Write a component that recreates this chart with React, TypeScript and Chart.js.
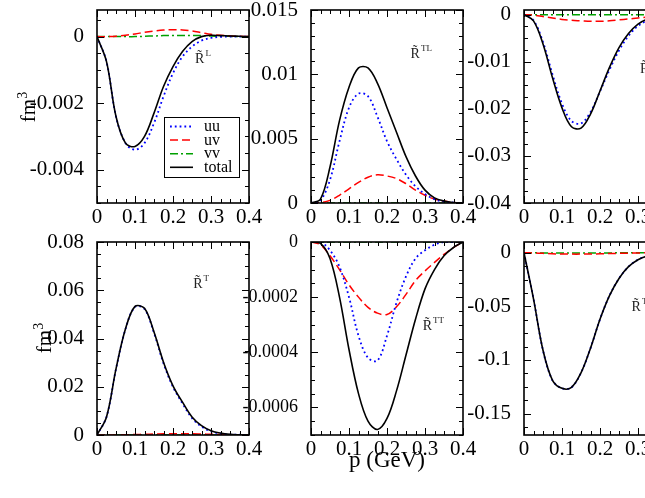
import React, { useEffect, useRef } from 'react';
import { Chart, registerables } from 'chart.js';

Chart.register(...registerables);

// momentum grid (GeV)
const P = [0, 0.025, 0.05, 0.075, 0.1, 0.125, 0.15, 0.175, 0.2, 0.225, 0.25, 0.275, 0.3, 0.325, 0.35, 0.375, 0.4];
const X_TICKS = [0, 0.1, 0.2, 0.3, 0.4];

// panel R~L (fm^3)
const L_UU = [0, -0.00075, -0.0024, -0.0032, -0.0034, -0.0032, -0.0026, -0.0018, -0.0011, -0.0006, -0.0003, -0.00012, -0.00004, -0.00001, 0, 0, 0];
const L_UV = [0, 0, 0.00001, 0.00004, 0.00008, 0.00013, 0.00017, 0.0002, 0.00021, 0.0002, 0.00017, 0.00012, 0.00007, 0.00004, 0.00002, 0.00001, 0];
const L_VV = [0, 0, 0, 0, 0, 0.00001, 0.00002, 0.00003, 0.00003, 0.00003, 0.00003, 0.00003, 0.00002, 0.00001, 0.00001, 0, 0];
const L_TOTAL = [0, -0.00075, -0.0024, -0.0032, -0.0033, -0.003, -0.0023, -0.0015, -0.0009, -0.00045, -0.00015, 0, 0.00004, 0.00003, 0.00002, 0.00001, 0];
const L_Y_TICKS = [-0.004, -0.002, 0];

// panel R~TL
const TL_UU = [0, 0.0002, 0.0018, 0.0048, 0.0074, 0.0085, 0.0083, 0.0067, 0.0048, 0.0034, 0.0022, 0.0013, 0.0007, 0.0003, 0.0001, 0.00003, 0];
const TL_UV = [0, 0.00002, 0.0002, 0.0006, 0.0011, 0.0016, 0.002, 0.0022, 0.0021, 0.0019, 0.0015, 0.001, 0.0006, 0.0003, 0.00015, 0.00005, 0];
const TL_VV = [0, 0, 0, 0, 0, 0, 0, 0, 0, 0, 0, 0, 0, 0, 0, 0, 0];
const TL_TOTAL = [0, 0.0003, 0.0028, 0.0064, 0.009, 0.0105, 0.0105, 0.0093, 0.0074, 0.0055, 0.0036, 0.0021, 0.001, 0.0004, 0.00015, 0.00004, 0];
const TL_Y_TICKS = [0, 0.005, 0.01, 0.015];

// third upper panel
const LT_UU = [0, -0.0012, -0.0058, -0.0127, -0.0189, -0.0226, -0.0231, -0.0207, -0.0163, -0.0117, -0.0076, -0.0045, -0.0024, -0.0012, -0.0005, -0.0002, 0];
const LT_UV = [0, -0.0001, -0.0004, -0.0007, -0.001, -0.0012, -0.0013, -0.0014, -0.0014, -0.0013, -0.0011, -0.0009, -0.0007, -0.0005, -0.0003, -0.0001, 0];
const LT_VV = [0, 0, 0, 0, 0, 0, 0, 0, 0, 0, 0, 0, 0, 0, 0, 0, 0];
const LT_TOTAL = [0, -0.0013, -0.0062, -0.0134, -0.0198, -0.0238, -0.0241, -0.0211, -0.0162, -0.0112, -0.007, -0.004, -0.002, -0.0009, -0.0004, -0.00015, 0];
const LT_Y_TICKS = [-0.04, -0.03, -0.02, -0.01, 0];

// panel R~T
const T_UU = [0, 0.0075, 0.0274, 0.0439, 0.0531, 0.0522, 0.0423, 0.0297, 0.0199, 0.0131, 0.007, 0.0035, 0.0015, 0.0006, 0.0002, 0.0001, 0];
const T_UV = [0, 0, 0.00005, 0.0001, 0.0002, 0.0003, 0.0004, 0.0005, 0.0005, 0.0005, 0.0005, 0.0004, 0.0003, 0.0002, 0.0001, 0.00005, 0];
const T_VV = [0, 0, 0, 0, 0, 0, 0, 0, 0, 0, 0, 0, 0, 0, 0, 0, 0];
const T_TOTAL = [0, 0.0075, 0.0274, 0.044, 0.0533, 0.0525, 0.0427, 0.0302, 0.0204, 0.0136, 0.0075, 0.0039, 0.0018, 0.0008, 0.0003, 0.0001, 0];
const T_Y_TICKS = [0, 0.02, 0.04, 0.06, 0.08];

// panel R~TT
const TT_UU = [0, 0, -0.00003, -0.00009, -0.0002, -0.00034, -0.00042, -0.00043, -0.00034, -0.00022, -0.000125, -0.00006, -0.00003, -0.00001, 0, 0, 0];
const TT_UV = [0, -0.00001, -0.00005, -0.0001, -0.000155, -0.0002, -0.000237, -0.000258, -0.000263, -0.000235, -0.00019, -0.00014, -0.000105, -0.000074, -0.000045, -0.00002, 0];
const TT_VV = [0, 0, 0, 0, 0, 0, 0, 0, 0, 0, 0, 0, 0, 0, 0, 0, 0];
const TT_TOTAL = [0, -0.000005, -0.00006, -0.0002, -0.00039, -0.00055, -0.00065, -0.00068, -0.00064, -0.00054, -0.00041, -0.00028, -0.00017, -0.0001, -0.00005, -0.00002, 0];
const TT_Y_TICKS = [-0.0006, -0.0004, -0.0002, 0];

// third lower panel
const T2_UU = [0, -0.043, -0.091, -0.119, -0.1265, -0.1255, -0.112, -0.089, -0.062, -0.04, -0.024, -0.013, -0.0065, -0.003, -0.0013, -0.0005, 0];
const T2_UV = [0, -0.0002, -0.0006, -0.001, -0.0012, -0.0013, -0.0013, -0.0012, -0.001, -0.0008, -0.0006, -0.0004, -0.0002, -0.0001, -0.00005, 0, 0];
const T2_VV = [0, -0.0001, -0.0002, -0.0003, -0.0003, -0.0003, -0.0003, -0.0003, -0.0002, -0.0002, -0.0001, -0.0001, 0, 0, 0, 0, 0];
const T2_TOTAL = [0, -0.043, -0.091, -0.119, -0.1265, -0.1255, -0.112, -0.089, -0.062, -0.04, -0.024, -0.013, -0.0065, -0.003, -0.0013, -0.0005, 0];
const T2_Y_TICKS = [-0.15, -0.1, -0.05, 0];

const SERIES_LABELS = ['uu', 'uv', 'vv', 'total'];

type PanelDef = {
  uu: number[]; uv: number[]; vv: number[]; total: number[];
  yMin: number; yMax: number; yTicks: number[]; yMajor: number; yMinor: number;
  tagSup: string; tagP: number; tagV: number; legend?: boolean;
  left: number; top: number; yFont: number;
};

const PLOT_W = 152;
const PLOT_H = 193;
const PAD_L = 80;
const PAD_T = 20;
const PAD_R = 25;
const PAD_B = 36;
const FONT = '"Liberation Serif", "Times New Roman", serif';
const TICK_SIZE = 21;

const PANELS: PanelDef[] = [
  { uu: L_UU, uv: L_UV, vv: L_VV, total: L_TOTAL, yMin: -0.005, yMax: 0.0008, yTicks: L_Y_TICKS, yMajor: 0.002, yMinor: 0.0005, tagSup: 'L', tagP: 0.258, tagV: -0.0008, legend: true, left: 97, top: 10, yFont: 21 },
  { uu: TL_UU, uv: TL_UV, vv: TL_VV, total: TL_TOTAL, yMin: 0, yMax: 0.015, yTicks: TL_Y_TICKS, yMajor: 0.005, yMinor: 0.001, tagSup: 'TL', tagP: 0.262, tagV: 0.0113, left: 311, top: 10, yFont: 21 },
  { uu: LT_UU, uv: LT_UV, vv: LT_VV, total: LT_TOTAL, yMin: -0.04, yMax: 0.001, yTicks: LT_Y_TICKS, yMajor: 0.01, yMinor: 0.0025, tagSup: 'LT', tagP: 0.305, tagV: -0.0123, left: 524, top: 10, yFont: 21 },
  { uu: T_UU, uv: T_UV, vv: T_VV, total: T_TOTAL, yMin: 0, yMax: 0.08, yTicks: T_Y_TICKS, yMajor: 0.02, yMinor: 0.005, tagSup: 'T', tagP: 0.253, tagV: 0.061, left: 97, top: 242, yFont: 21 },
  { uu: TT_UU, uv: TT_UV, vv: TT_VV, total: TT_TOTAL, yMin: -0.0007, yMax: 0, yTicks: TT_Y_TICKS, yMajor: 0.0002, yMinor: 0.00005, tagSup: 'TT', tagP: 0.294, tagV: -0.000318, left: 311, top: 242, yFont: 18 },
  { uu: T2_UU, uv: T2_UV, vv: T2_VV, total: T2_TOTAL, yMin: -0.17, yMax: 0.01, yTicks: T2_Y_TICKS, yMajor: 0.05, yMinor: 0.0125, tagSup: 'T', tagP: 0.283, tagV: -0.054, left: 524, top: 242, yFont: 21 },
];

const fmt = (v: number | string) => {
  const n = Number(v);
  if (Math.abs(n) < 1e-12) return '0';
  return String(parseFloat(n.toPrecision(6)));
};

const STYLES = [
  { color: '#0000ff', dash: [1.8, 3], width: 1.8, order: 1 },
  { color: '#ff0000', dash: [8, 4], width: 1.5, order: 2 },
  { color: '#00a000', dash: [8, 3, 2, 3], width: 1.5, order: 3 },
  { color: '#000000', dash: [] as number[], width: 1.6, order: 0 },
];

function Panel({ def }: { def: PanelDef }) {
  const ref = useRef<HTMLCanvasElement>(null);
  const W = PLOT_W + PAD_L + PAD_R;
  const H = PLOT_H + PAD_T + PAD_B;

  useEffect(() => {
    const canvas = ref.current;
    if (!canvas) return;
    const values = [def.uu, def.uv, def.vv, def.total];

    const overlay = {
      id: 'overlay',
      afterDatasetsDraw(chart: any) {
        const { ctx, chartArea: a, scales } = chart;
        const xs = scales.x;
        const ys = scales.y;
        ctx.save();
        ctx.strokeStyle = '#000';
        ctx.setLineDash([]);
        const ticks = (min: number, max: number, step: number, major: number, horiz: boolean) => {
          const k0 = Math.ceil(min / step - 1e-6);
          const k1 = Math.floor(max / step + 1e-6);
          for (let k = k0; k <= k1; k++) {
            const v = k * step;
            const isMaj = Math.abs(v / major - Math.round(v / major)) < 1e-6;
            const len = isMaj ? 7 : 4;
            ctx.beginPath();
            if (horiz) {
              const px = Math.round(xs.getPixelForValue(v)) + 0.5;
              ctx.moveTo(px, a.bottom); ctx.lineTo(px, a.bottom - len);
              ctx.moveTo(px, a.top); ctx.lineTo(px, a.top + len);
            } else {
              const py = Math.round(ys.getPixelForValue(v)) + 0.5;
              ctx.moveTo(a.left, py); ctx.lineTo(a.left + len, py);
              ctx.moveTo(a.right, py); ctx.lineTo(a.right - len, py);
            }
            ctx.stroke();
          }
        };
        ctx.lineWidth = 1;
        ticks(0, 0.4, 0.025, 0.1, true);
        ticks(def.yMin, def.yMax, def.yMinor, def.yMajor, false);
        ctx.lineWidth = 1.6;
        ctx.strokeRect(a.left, a.top, a.right - a.left, a.bottom - a.top);

        // curve tag
        const tx = xs.getPixelForValue(def.tagP);
        const ty = ys.getPixelForValue(def.tagV);
        ctx.fillStyle = '#222';
        ctx.textAlign = 'left';
        ctx.textBaseline = 'alphabetic';
        ctx.font = `14px ${FONT}`;
        ctx.fillText('R\u0303', tx, ty);
        const rw = ctx.measureText('R').width;
        ctx.font = `9px ${FONT}`;
        ctx.fillText(def.tagSup, tx + rw + 1, ty - 7);

        if (def.legend) {
          const bx = a.left + 67;
          const by = a.top + 107;
          const bw = 75;
          const bh = 60;
          ctx.fillStyle = '#fff';
          ctx.fillRect(bx, by, bw, bh);
          ctx.lineWidth = 1;
          ctx.strokeStyle = '#000';
          ctx.strokeRect(bx + 0.5, by + 0.5, bw, bh);
          SERIES_LABELS.forEach((lab, i) => {
            const st = STYLES[i];
            const ly = by + 9.5 + i * 13.6;
            ctx.beginPath();
            ctx.strokeStyle = st.color;
            ctx.lineWidth = st.width;
            ctx.setLineDash(st.dash);
            ctx.moveTo(bx + 6, ly);
            ctx.lineTo(bx + 29, ly);
            ctx.stroke();
            ctx.setLineDash([]);
            ctx.fillStyle = '#000';
            ctx.font = `16px ${FONT}`;
            ctx.fillText(lab, bx + 40, ly + 4.5);
          });
        }
        ctx.restore();
      },
    };

    const chart = new Chart(canvas, {
      type: 'line',
      data: {
        datasets: SERIES_LABELS.map((lab, i) => ({
          label: lab,
          data: P.map((x, j) => ({ x, y: values[i][j] })),
          borderColor: STYLES[i].color,
          borderDash: STYLES[i].dash,
          borderWidth: STYLES[i].width,
          pointRadius: 0,
          tension: 0.35,
          fill: false,
          order: STYLES[i].order,
        })),
      },
      options: {
        responsive: false,
        animation: false,
        events: [],
        layout: { padding: { top: PAD_T, right: PAD_R, left: 0, bottom: 0 } },
        plugins: { legend: { display: false }, tooltip: { enabled: false } },
        scales: {
          x: {
            type: 'linear',
            min: 0,
            max: 0.4,
            grid: { display: false },
            border: { display: false },
            afterBuildTicks: (s: any) => { s.ticks = X_TICKS.map((v) => ({ value: v })); },
            afterFit: (s: any) => { s.height = PAD_B; },
            ticks: {
              font: { family: FONT, size: TICK_SIZE },
              color: '#000',
              padding: -6,
              maxRotation: 0,
              autoSkip: false,
              callback: (v: any) => fmt(v),
            },
          },
          y: {
            type: 'linear',
            min: def.yMin,
            max: def.yMax,
            grid: { display: false },
            border: { display: false },
            afterBuildTicks: (s: any) => { s.ticks = def.yTicks.map((v) => ({ value: v })); },
            afterFit: (s: any) => { s.width = PAD_L; },
            ticks: {
              font: { family: FONT, size: def.yFont },
              color: '#000',
              padding: 5,
              autoSkip: false,
              callback: (v: any) => fmt(v),
            },
          },
        },
      } as any,
      plugins: [overlay],
    });
    return () => chart.destroy();
  }, [def]);

  return (
    <canvas
      ref={ref}
      width={W}
      height={H}
      style={{ position: 'absolute', left: def.left - PAD_L, top: def.top - PAD_T, width: W, height: H, display: 'block' }}
    />
  );
}

const labelStyle: React.CSSProperties = {
  position: 'absolute',
  fontFamily: FONT,
  fontSize: 21,
  lineHeight: '21px',
  color: '#000',
  whiteSpace: 'nowrap',
};

export default function App() {
  return (
    <div style={{ position: 'absolute', left: 0, top: 0, width: 645, height: 498, overflow: 'hidden', background: '#fff' }}>
      {PANELS.map((d, i) => (
        <Panel key={i} def={d} />
      ))}
      <div style={{ ...labelStyle, left: 25, top: 107, transform: 'translate(-50%, -50%) rotate(-90deg)' }}>
        fm<sup style={{ fontSize: 14 }}>3</sup>
      </div>
      <div style={{ ...labelStyle, left: 41, top: 338, transform: 'translate(-50%, -50%) rotate(-90deg)' }}>
        fm<sup style={{ fontSize: 14 }}>3</sup>
      </div>
      <div style={{ ...labelStyle, fontSize: 23, lineHeight: '23px', left: 387, top: 448, transform: 'translateX(-50%)' }}>
        p (GeV)
      </div>
    </div>
  );
}
